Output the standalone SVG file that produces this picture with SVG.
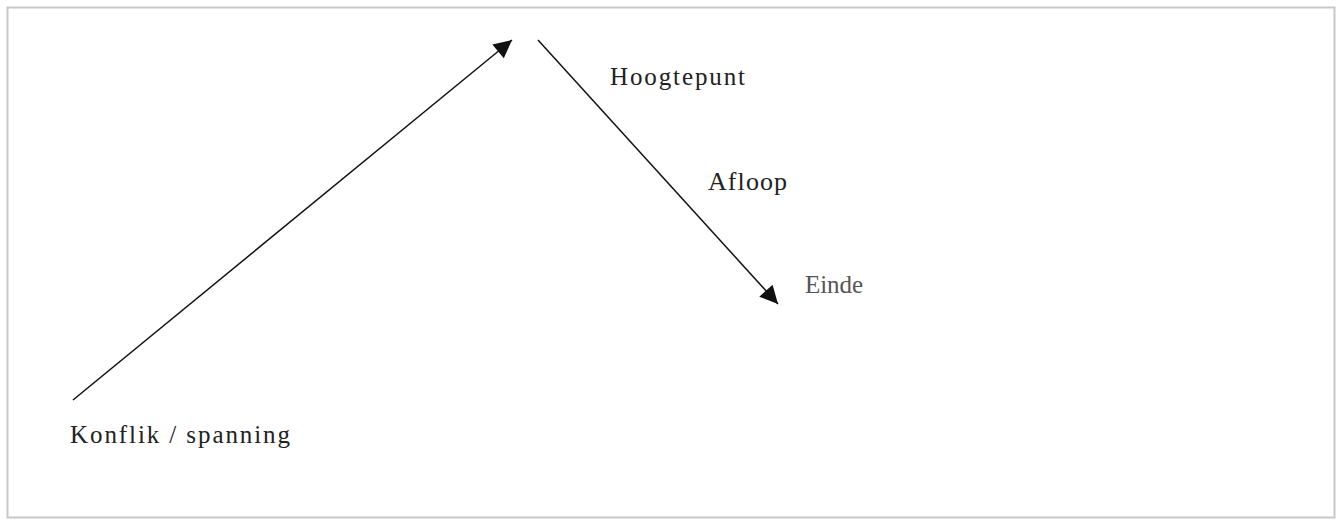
<svg xmlns="http://www.w3.org/2000/svg" width="1343" height="524" viewBox="0 0 1343 524">
<style>
.t{font-family:"Liberation Serif","Times New Roman",serif;font-size:25px;fill:#222}
.c{stroke:#111;stroke-width:1.5;fill:none}
</style>
<defs>
<marker id="ah" viewBox="0 0 10 10" refX="10" refY="5" markerWidth="22" markerHeight="18" markerUnits="userSpaceOnUse" orient="auto"><path d="M0,0 L10,5 L0,10 Z" fill="#111"/></marker>
</defs>
<rect x="7.5" y="7.5" width="1327" height="510" fill="#fff" stroke="#c8c8c8" stroke-width="2"/>
<g id="connectors">
<line class="c" x1="73" y1="400" x2="512" y2="40" marker-end="url(#ah)"/>
<line class="c" x1="538" y1="40" x2="778" y2="304" marker-end="url(#ah)"/>
</g>
<g id="hoogtepunt"><text class="t" x="610" y="85" textLength="135" lengthAdjust="spacing">Hoogtepunt</text></g>
<g id="afloop"><text class="t" x="708" y="190" textLength="79" lengthAdjust="spacing" style="font-size:26px">Afloop</text></g>
<g id="einde"><text class="t" x="805" y="293" textLength="58" lengthAdjust="spacing" style="fill:#555">Einde</text></g>
<g id="konflik"><text class="t" x="70" y="443" textLength="220" lengthAdjust="spacing">Konflik / spanning</text></g>
</svg>
